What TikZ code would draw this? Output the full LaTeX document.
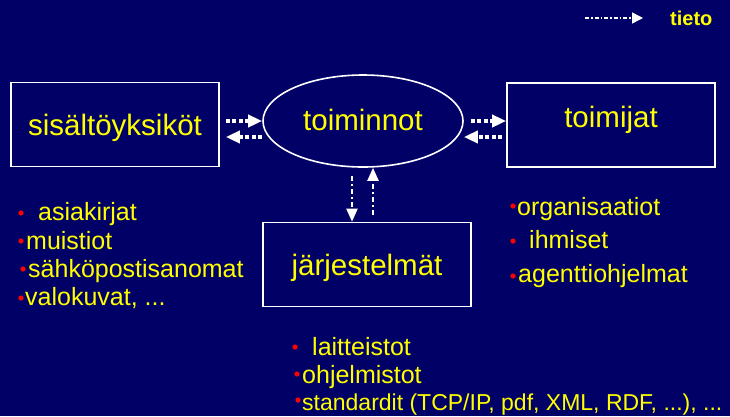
\documentclass[tikz,border=0pt]{standalone}
\usepackage{fontspec}
\setmainfont{Liberation Sans}
\usepackage{xcolor}
\usetikzlibrary{positioning, arrows.meta, shapes.geometric}
\definecolor{slidebg}{RGB}{0,0,102}
\definecolor{slidetxt}{RGB}{255,255,0}
\definecolor{bulred}{RGB}{255,0,0}

\begin{document}
\begin{tikzpicture}[
    x=1pt, y=-1pt,
    every node/.style={text=slidetxt, font=\fontsize{25}{28}\selectfont},
    box/.style={draw=white, line width=1.6pt, minimum width=208pt, minimum height=84pt,
                inner sep=0pt, text height=21pt, text depth=0pt,
                font=\fontsize{29.5}{32}\selectfont},
    oval/.style={ellipse, draw=white, line width=1.6pt, minimum width=200pt, minimum height=92pt,
                 inner sep=0pt, text height=21pt, text depth=3pt,
                 font=\fontsize{29.5}{32}\selectfont},
    itemtxt/.style={anchor=base west, inner sep=0pt},
    arr/.style={-{Triangle[length=14pt, width=12pt]}, white, line width=3.5pt,
                dash pattern=on 4pt off 2.5pt},
    arrv/.style={-{Triangle[length=13pt, width=11pt]}, white, line width=2pt,
                 dash pattern=on 5pt off 3pt on 2pt off 3pt},
    legarr/.style={-{Triangle[length=11pt, width=11pt]}, white, line width=1.5pt,
                   dash pattern=on 4pt off 2pt on 1.5pt off 2pt}
]
\fill[slidebg] (0,0) rectangle (730,416);
\useasboundingbox (0,0) rectangle (730,416);

\node[box] (sis) at (115,124.5) {sisältöyksiköt};
\node[oval] (toim) at (363,121) {toiminnot};
\node[box, text depth=17pt] (toij) at (611,125) {toimijat};
\node[box] (jar) at (367,264.5) {järjestelmät};

\draw[arr] ([shift={(6,-3.5)}]sis.east) -- (toim.west);
\draw[arr] ([shift={(0,16)}]toim.west) -- ([shift={(6,12.5)}]sis.east);
\draw[arr] ([shift={(7,0)}]toim.east) -- ([shift={(0,-4)}]toij.west);
\draw[arr] ([shift={(-4,12)}]toij.west) -- ([shift={(0,16)}]toim.east);
\draw[arrv] ([shift={(-11,8)}]toim.south) -- ([shift={(-15,0)}]jar.north);
\draw[arrv] ([shift={(6,-7)}]jar.north) -- ([shift={(10,0)}]toim.south);

\coordinate (leg-a) at (585,18);
\node[anchor=base west, inner sep=0pt, font=\fontsize{20}{22}\selectfont\bfseries] (tieto) at (670,25) {tieto};
\draw[legarr] (leg-a) -- ([xshift=-27pt]tieto.west |- leg-a);

\node[itemtxt] (asia) at (38,220) {asiakirjat};
\node[itemtxt] (muis) at (26,249) {muistiot};
\node[itemtxt] (sahk) at (28,277) {sähköpostisanomat};
\node[itemtxt] (valo) at (25,305) {valokuvat, ...};

\node[itemtxt] (org) at (517,215) {organisaatiot};
\node[itemtxt] (ihm) at (529,248) {ihmiset};
\node[itemtxt] (agen) at (518,282) {agenttiohjelmat};

\node[itemtxt] (lait) at (312,355) {laitteistot};
\node[itemtxt] (ohj) at (302,383) {ohjelmistot};
\node[itemtxt, font=\fontsize{23}{26}\selectfont] (stan) at (302,410) {standardit (TCP/IP, pdf, XML, RDF, ...), ...};

\foreach \bx/\by in {21/213, 21/241, 23/269, 21/298,
                     513/206, 513/241, 513/276,
                     295/347, 297/374, 298/400}
  \fill[bulred] (\bx,\by) circle (2.6);
\end{tikzpicture}
\end{document}
